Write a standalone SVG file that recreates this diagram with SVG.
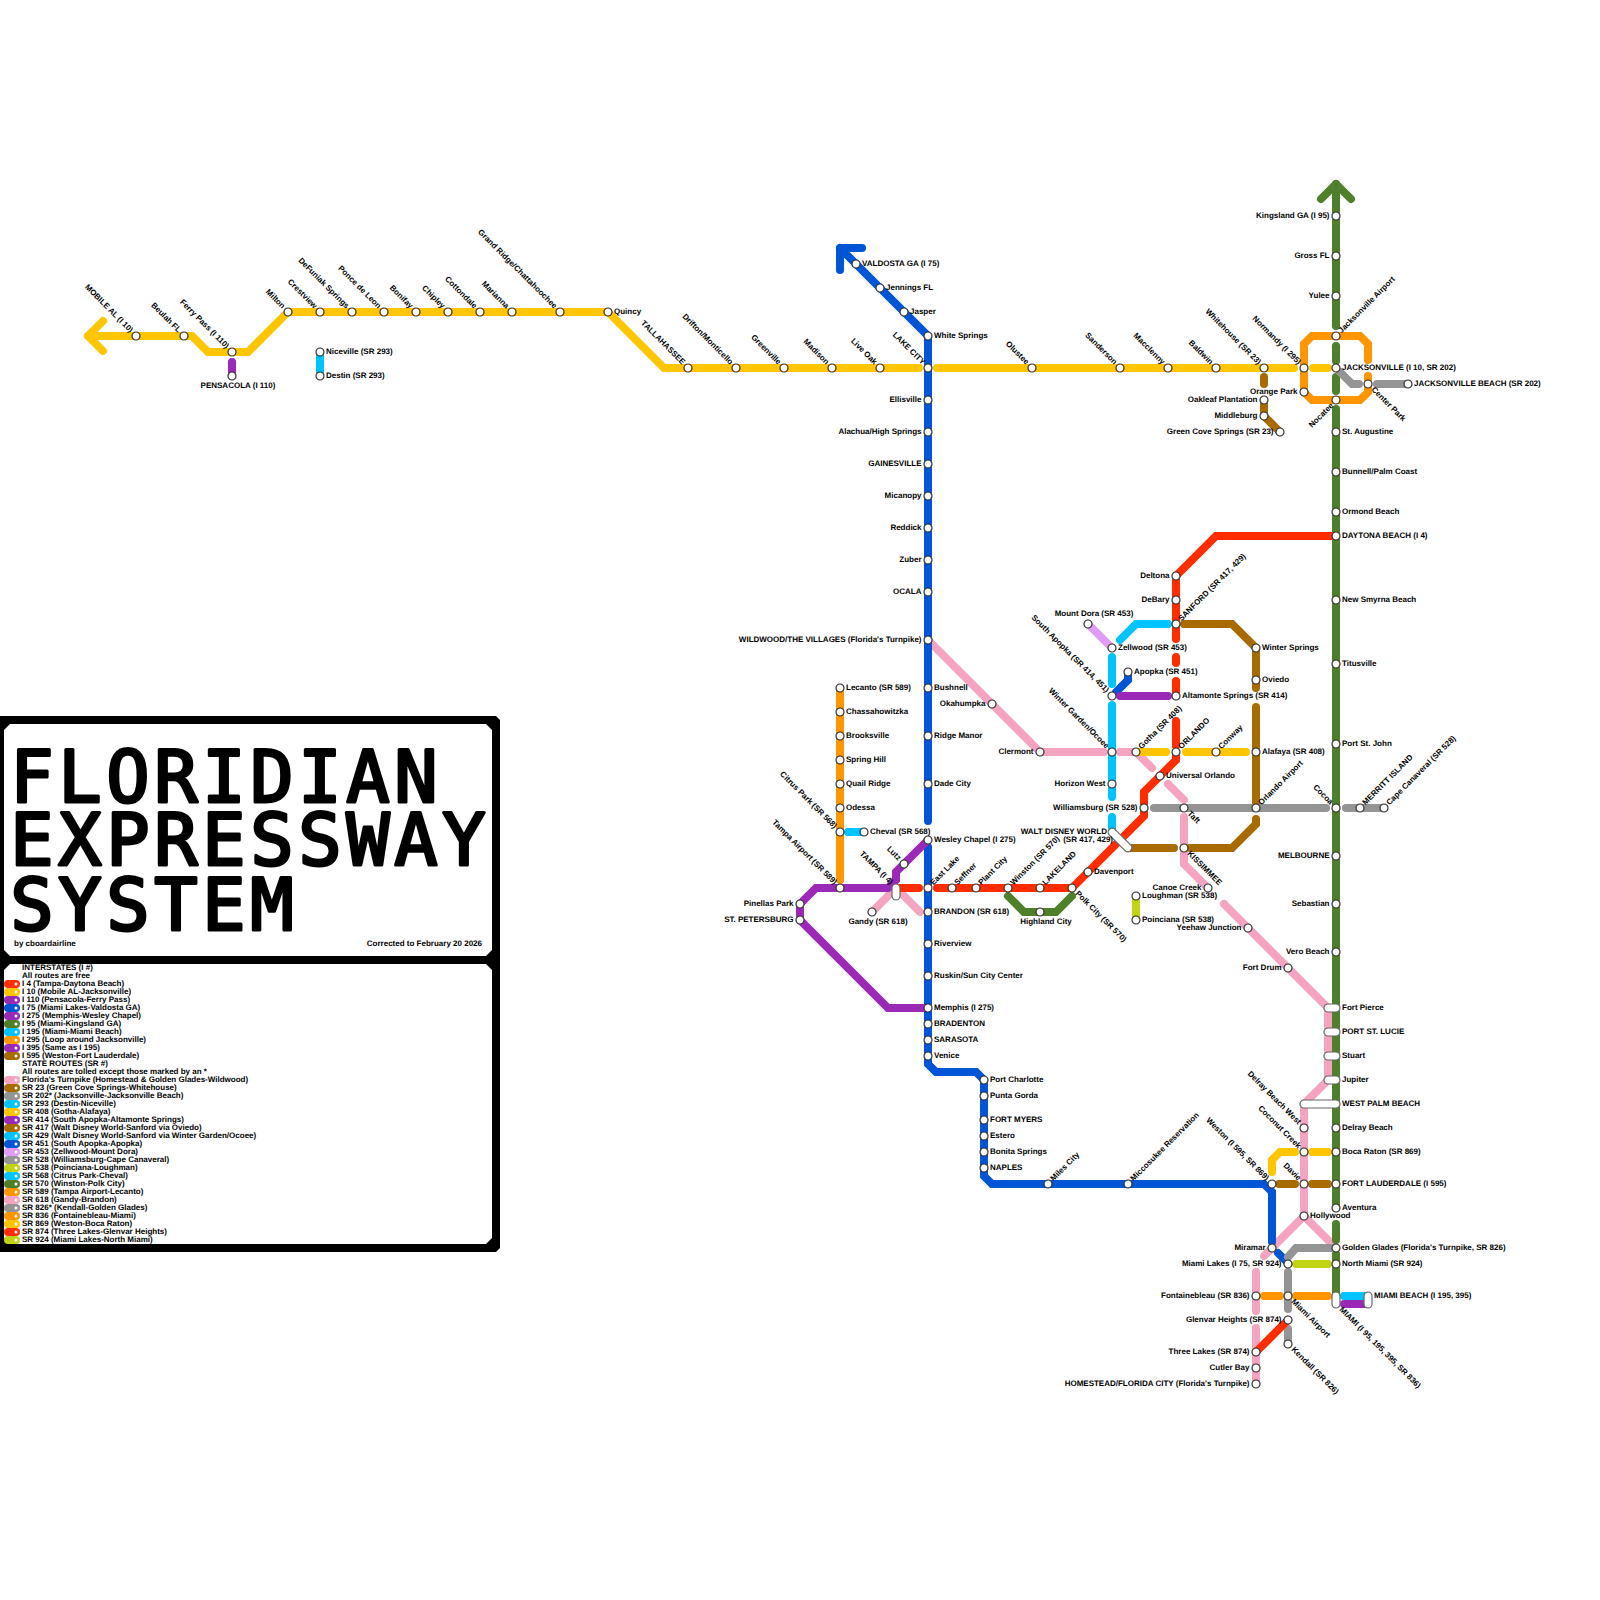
<svg xmlns="http://www.w3.org/2000/svg" width="1600" height="1600" viewBox="0 0 1600 1600">
<style>
text{font:bold 8px "Liberation Sans",Arial,sans-serif;fill:#000;text-rendering:geometricPrecision}
.R{transform:translate(6px,2px)}
.L{text-anchor:end;transform:translate(-6.5px,2px)}
.UL{text-anchor:end;transform:translate(-6px,-3px) rotate(45deg)}
.UR{transform:translate(5.5px,-2.5px) rotate(-45deg)}
.LR{transform:translate(3px,6px) rotate(45deg)}
.LL{text-anchor:end;transform:translate(-2px,6px) rotate(-45deg)}
.M{text-anchor:middle}
.E{text-anchor:end}
.t{font:normal 72px "DejaVu Sans Mono",monospace;text-anchor:middle;stroke:#000;stroke-width:3;stroke-linejoin:round}
.st{fill:#fff;stroke:#333;stroke-width:1.2}
.cap{fill:#fff;stroke:#666;stroke-width:1.2}
#connectors polyline,.sw line{fill:none;stroke-width:8;stroke-linecap:round;stroke-linejoin:miter}
#connectors polyline.ah{stroke-linejoin:round}
.red{stroke:#ff2d00}.yel{stroke:#ffc600}.pur{stroke:#9a29b8}.blu{stroke:#0054d6}.grn{stroke:#4f7f2a}.cya{stroke:#00c3ff}.ora{stroke:#ff9600}.bro{stroke:#a86b00}.pin{stroke:#f4a4c0}.gry{stroke:#949494}.lil{stroke:#e09cf4}.lim{stroke:#c0d414}
.dot{fill:#fff}
</style>
<g id="frame">
<polygon points="0,716 496,716 500,720 500,1248 496,1252 0,1252" fill="#000"/>
<polygon points="10,724 486,724 492,730 492,950 486,956 10,956 4,950 4,730" fill="#fff"/>
<polygon points="10,964 486,964 492,970 492,1238 486,1244 10,1244 4,1238 4,970" fill="#fff"/>
</g>
<g id="title">
<text class="t" y="802" x="32 80 128 176 224 272 320 368 416">FLORIDIAN</text>
<text class="t" y="865" x="32 80 128 176 224 272 320 368 416 464">EXPRESSWAY</text>
<text class="t" y="930" x="32 80 128 176 224 272">SYSTEM</text>
<text x="14" y="946">by cboardairline</text>
<text x="482" y="946" class="E">Corrected to February 20 2026</text>
</g>
<g id="legend">
<g class="sw">
<line class="red" x1="8" x2="16" y1="984" y2="984"/><line class="yel" x1="8" x2="16" y1="992" y2="992"/><line class="pur" x1="8" x2="16" y1="1000" y2="1000"/><line class="blu" x1="8" x2="16" y1="1008" y2="1008"/><line class="pur" x1="8" x2="16" y1="1016" y2="1016"/><line class="grn" x1="8" x2="16" y1="1024" y2="1024"/><line class="cya" x1="8" x2="16" y1="1032" y2="1032"/><line class="ora" x1="8" x2="16" y1="1040" y2="1040"/><line class="pur" x1="8" x2="16" y1="1048" y2="1048"/><line class="bro" x1="8" x2="16" y1="1056" y2="1056"/>
<line class="pin" x1="8" x2="16" y1="1080" y2="1080"/><line class="bro" x1="8" x2="16" y1="1088" y2="1088"/><line class="gry" x1="8" x2="16" y1="1096" y2="1096"/><line class="cya" x1="8" x2="16" y1="1104" y2="1104"/><line class="yel" x1="8" x2="16" y1="1112" y2="1112"/><line class="pur" x1="8" x2="16" y1="1120" y2="1120"/><line class="bro" x1="8" x2="16" y1="1128" y2="1128"/><line class="cya" x1="8" x2="16" y1="1136" y2="1136"/><line class="blu" x1="8" x2="16" y1="1144" y2="1144"/><line class="lil" x1="8" x2="16" y1="1152" y2="1152"/><line class="gry" x1="8" x2="16" y1="1160" y2="1160"/><line class="lim" x1="8" x2="16" y1="1168" y2="1168"/><line class="cya" x1="8" x2="16" y1="1176" y2="1176"/><line class="grn" x1="8" x2="16" y1="1184" y2="1184"/><line class="ora" x1="8" x2="16" y1="1192" y2="1192"/><line class="pin" x1="8" x2="16" y1="1200" y2="1200"/><line class="gry" x1="8" x2="16" y1="1208" y2="1208"/><line class="ora" x1="8" x2="16" y1="1216" y2="1216"/><line class="yel" x1="8" x2="16" y1="1224" y2="1224"/><line class="red" x1="8" x2="16" y1="1232" y2="1232"/><line class="lim" x1="8" x2="16" y1="1240" y2="1240"/>
</g>
<g class="dot">
<circle cx="16" cy="984" r="1.5"/><circle cx="16" cy="992" r="1.5"/><circle cx="16" cy="1000" r="1.5"/><circle cx="16" cy="1008" r="1.5"/><circle cx="16" cy="1016" r="1.5"/><circle cx="16" cy="1024" r="1.5"/><circle cx="16" cy="1032" r="1.5"/><circle cx="16" cy="1040" r="1.5"/><circle cx="16" cy="1048" r="1.5"/><circle cx="16" cy="1056" r="1.5"/><circle cx="16" cy="1080" r="1.5"/><circle cx="16" cy="1088" r="1.5"/><circle cx="16" cy="1096" r="1.5"/><circle cx="16" cy="1104" r="1.5"/><circle cx="16" cy="1112" r="1.5"/><circle cx="16" cy="1120" r="1.5"/><circle cx="16" cy="1128" r="1.5"/><circle cx="16" cy="1136" r="1.5"/><circle cx="16" cy="1144" r="1.5"/><circle cx="16" cy="1152" r="1.5"/><circle cx="16" cy="1160" r="1.5"/><circle cx="16" cy="1168" r="1.5"/><circle cx="16" cy="1176" r="1.5"/><circle cx="16" cy="1184" r="1.5"/><circle cx="16" cy="1192" r="1.5"/><circle cx="16" cy="1200" r="1.5"/><circle cx="16" cy="1208" r="1.5"/><circle cx="16" cy="1216" r="1.5"/><circle cx="16" cy="1224" r="1.5"/><circle cx="16" cy="1232" r="1.5"/><circle cx="16" cy="1240" r="1.5"/>
</g>
<text x="22" y="970">INTERSTATES (I #)</text>
<text x="22" y="978">All routes are free</text>
<text x="22" y="986">I 4 (Tampa-Daytona Beach)</text>
<text x="22" y="994">I 10 (Mobile AL-Jacksonville)</text>
<text x="22" y="1002">I 110 (Pensacola-Ferry Pass)</text>
<text x="22" y="1010">I 75 (Miami Lakes-Valdosta GA)</text>
<text x="22" y="1018">I 275 (Memphis-Wesley Chapel)</text>
<text x="22" y="1026">I 95 (Miami-Kingsland GA)</text>
<text x="22" y="1034">I 195 (Miami-Miami Beach)</text>
<text x="22" y="1042">I 295 (Loop around Jacksonville)</text>
<text x="22" y="1050">I 395 (Same as I 195)</text>
<text x="22" y="1058">I 595 (Weston-Fort Lauderdale)</text>
<text x="22" y="1066">STATE ROUTES (SR #)</text>
<text x="22" y="1074">All routes are tolled except those marked by an *</text>
<text x="22" y="1082">Florida's Turnpike (Homestead &amp; Golden Glades-Wildwood)</text>
<text x="22" y="1090">SR 23 (Green Cove Springs-Whitehouse)</text>
<text x="22" y="1098">SR 202* (Jacksonville-Jacksonville Beach)</text>
<text x="22" y="1106">SR 293 (Destin-Niceville)</text>
<text x="22" y="1114">SR 408 (Gotha-Alafaya)</text>
<text x="22" y="1122">SR 414 (South Apopka-Altamonte Springs)</text>
<text x="22" y="1130">SR 417 (Walt Disney World-Sanford via Oviedo)</text>
<text x="22" y="1138">SR 429 (Walt Disney World-Sanford via Winter Garden/Ocoee)</text>
<text x="22" y="1146">SR 451 (South Apopka-Apopka)</text>
<text x="22" y="1154">SR 453 (Zellwood-Mount Dora)</text>
<text x="22" y="1162">SR 528 (Williamsburg-Cape Canaveral)</text>
<text x="22" y="1170">SR 538 (Poinciana-Loughman)</text>
<text x="22" y="1178">SR 568 (Citrus Park-Cheval)</text>
<text x="22" y="1186">SR 570 (Winston-Polk City)</text>
<text x="22" y="1194">SR 589 (Tampa Airport-Lecanto)</text>
<text x="22" y="1202">SR 618 (Gandy-Brandon)</text>
<text x="22" y="1210">SR 826* (Kendall-Golden Glades)</text>
<text x="22" y="1218">SR 836 (Fontainebleau-Miami)</text>
<text x="22" y="1226">SR 869 (Weston-Boca Raton)</text>
<text x="22" y="1234">SR 874 (Three Lakes-Glenvar Heights)</text>
<text x="22" y="1242">SR 924 (Miami Lakes-North Miami)</text>
</g>
<g id="connectors">
<g id="sr618"><polyline class="pin" points="872,912 896,888 920,912"/></g>
<g id="turnpike">
<polyline class="pin" points="928,640 1040,752 1104,752"/>
<polyline class="pin" points="1120,752 1136,752 1152,768"/>
<polyline class="pin" points="1168,784 1184,800"/>
<polyline class="pin" points="1184,817 1184,864 1208,888"/>
<polyline class="pin" points="1224,904 1328,1008 1328,1080 1304,1104 1304,1216 1336,1248"/>
<polyline class="pin" points="1304,1216 1264,1256"/>
<polyline class="pin" points="1256,1272 1256,1311"/>
<polyline class="pin" points="1256,1328 1256,1384"/>
</g>
<g id="i95">
<polyline class="grn ah" points="1321,199 1336,184 1351,199"/>
<polyline class="grn" points="1336,184 1336,326"/>
<polyline class="grn" points="1336,346 1336,361"/>
<polyline class="grn" points="1336,377 1336,391"/>
<polyline class="grn" points="1336,409 1336,1208"/>
<polyline class="grn" points="1336,1224 1336,1240"/>
<polyline class="grn" points="1336,1254 1336,1296"/>
</g>
<g id="i10">
<polyline class="yel ah" points="103,321 88,336 103,351"/>
<polyline class="yel" points="88,336 192,336 208,352 248,352 288,312 608,312 664,368 919,368"/>
<polyline class="yel" points="937,368 1294,368"/>
<polyline class="yel" points="1313,368 1328,368"/>
</g>
<g id="i110"><polyline class="pur" points="232,362 232,376"/></g>
<g id="sr293"><polyline class="cya" points="320,354 320,374"/></g>
<g id="i75">
<polyline class="blu ah" points="862,248 840,248 840,270"/>
<polyline class="blu" points="840,248 928,336 928,821"/>
<polyline class="blu" points="928,847 928,1064 936,1072 976,1072 984,1080 984,1176 992,1184 1264,1184 1272,1192 1272,1242"/>
<polyline class="blu" points="1278,1253 1288,1263"/>
<polyline class="blu" points="1116,692 1128,680 1128,672"/>
</g>
<g id="i275">
<polyline class="pur" points="928,840 896,872 896,880 888,888 816,888 800,904 800,920 888,1008 923,1008"/>
</g>
<g id="i4">
<polyline class="red" points="896,888 919,888"/>
<polyline class="red" points="937,888 1072,888 1144,816 1144,792 1176,760 1176,752"/>
<polyline class="red" points="1176,721 1176,746"/>
<polyline class="red" points="1176,681 1176,696"/>
<polyline class="red" points="1176,657 1176,663"/>
<polyline class="red" points="1336,536 1216,536 1176,576 1176,639"/>
</g>
<g id="sr589">
<polyline class="ora" points="840,688 840,880"/>
</g>
<g id="sr568"><polyline class="cya" points="848,832 864,832"/></g>
<g id="sr570"><polyline class="grn" points="1008,896 1024,912 1056,912 1072,896"/></g>
<g id="sr538"><polyline class="lim" points="1136,898 1136,918"/></g>
<g id="sr429">
<polyline class="cya" points="1112,817 1112,830"/>
<polyline class="cya" points="1112,705 1112,797"/>
<polyline class="cya" points="1112,657 1112,684"/>
<polyline class="cya" points="1120,640 1136,624 1168,624"/>
</g>
<g id="sr453"><polyline class="lil" points="1088,624 1112,648"/></g>
<g id="sr414"><polyline class="pur" points="1120,696 1168,696"/></g>
<g id="sr417">
<polyline class="bro" points="1184,624 1232,624 1256,648 1256,688"/>
<polyline class="bro" points="1256,707 1256,808"/>
<polyline class="bro" points="1256,819 1256,824 1232,848 1190,848"/>
<polyline class="bro" points="1174,848 1128,848"/>
</g>
<g id="sr408">
<polyline class="yel" points="1136,752 1166,752"/>
<polyline class="yel" points="1186,752 1246,752"/>
</g>
<g id="sr528">
<polyline class="gry" points="1154,808 1326,808"/>
<polyline class="gry" points="1346,808 1384,808"/>
</g>
<g id="i295">
<polyline class="ora" points="1368,360 1368,344 1360,336 1312,336 1304,344 1304,392 1312,400 1360,400 1368,392 1368,376"/>
</g>
<g id="sr202">
<polyline class="gry" points="1340,372 1352,384 1359,384"/>
<polyline class="gry" points="1377,384 1408,384"/>
</g>
<g id="sr23">
<polyline class="bro" points="1264,377 1264,384"/>
<polyline class="bro" points="1264,400 1264,416 1280,432"/>
</g>
<g id="sr869">
<polyline class="yel" points="1272,1172 1272,1160 1280,1152 1295,1152"/>
<polyline class="yel" points="1312,1152 1328,1152"/>
</g>
<g id="i595">
<polyline class="bro" points="1279,1184 1295,1184"/>
<polyline class="bro" points="1312,1184 1328,1184"/>
</g>
<g id="sr826">
<polyline class="gry" points="1288,1257 1296,1248 1332,1248"/>
<polyline class="gry" points="1288,1272 1288,1309"/>
<polyline class="gry" points="1288,1329 1288,1344"/>
</g>
<g id="sr924"><polyline class="lim" points="1296,1264 1328,1264"/></g>
<g id="sr836">
<polyline class="ora" points="1264,1296 1280,1296"/>
<polyline class="ora" points="1296,1296 1328,1296"/>
</g>
<g id="sr874"><polyline class="red" points="1256,1352 1288,1320"/></g>
<g id="i195"><polyline class="cya" points="1344,1296 1366,1296"/></g>
<g id="i395"><polyline class="pur" points="1344,1304 1366,1304"/></g>
</g>
<g id="stations">
<g id="n-mobile" transform="translate(136,336)"><circle class="st" r="4"/><text class="UL">MOBILE AL (I 10)</text></g>
<g id="n-beulah" transform="translate(184,336)"><circle class="st" r="4"/><text class="UL">Beulah FL</text></g>
<g id="n-ferrypass" transform="translate(232,352)"><circle class="st" r="4"/><text class="UL">Ferry Pass (I 110)</text></g>
<g id="n-pensacola" transform="translate(232,376)"><circle class="st" r="4"/><text class="M" x="6" y="12">PENSACOLA (I 110)</text></g>
<g id="n-niceville" transform="translate(320,352)"><circle class="st" r="4"/><text class="R">Niceville (SR 293)</text></g>
<g id="n-destin" transform="translate(320,376)"><circle class="st" r="4"/><text class="R">Destin (SR 293)</text></g>
<g id="n-milton" transform="translate(288,312)"><circle class="st" r="4"/><text class="UL">Milton</text></g>
<g id="n-crestview" transform="translate(320,312)"><circle class="st" r="4"/><text class="UL">Crestview</text></g>
<g id="n-defuniak" transform="translate(352,312)"><circle class="st" r="4"/><text class="UL">DeFuniak Springs</text></g>
<g id="n-ponce" transform="translate(384,312)"><circle class="st" r="4"/><text class="UL">Ponce de Leon</text></g>
<g id="n-bonifay" transform="translate(416,312)"><circle class="st" r="4"/><text class="UL">Bonifay</text></g>
<g id="n-chipley" transform="translate(448,312)"><circle class="st" r="4"/><text class="UL">Chipley</text></g>
<g id="n-cottondale" transform="translate(480,312)"><circle class="st" r="4"/><text class="UL">Cottondale</text></g>
<g id="n-marianna" transform="translate(512,312)"><circle class="st" r="4"/><text class="UL">Marianna</text></g>
<g id="n-grandridge" transform="translate(560,312)"><circle class="st" r="4"/><text class="UL">Grand Ridge/Chattahoochee</text></g>
<g id="n-quincy" transform="translate(608,312)"><circle class="st" r="4"/><text class="R">Quincy</text></g>
<g id="n-tallahassee" transform="translate(688,368)"><circle class="st" r="4"/><text class="UL">TALLAHASSEE</text></g>
<g id="n-drifton" transform="translate(736,368)"><circle class="st" r="4"/><text class="UL">Drifton/Monticello</text></g>
<g id="n-greenville" transform="translate(784,368)"><circle class="st" r="4"/><text class="UL">Greenville</text></g>
<g id="n-madison" transform="translate(832,368)"><circle class="st" r="4"/><text class="UL">Madison</text></g>
<g id="n-liveoak" transform="translate(880,368)"><circle class="st" r="4"/><text class="UL">Live Oak</text></g>
<g id="n-lakecity" transform="translate(928,368)"><circle class="st" r="4"/><text class="UL">LAKE CITY</text></g>
<g id="n-olustee" transform="translate(1032,368)"><circle class="st" r="4"/><text class="UL">Olustee</text></g>
<g id="n-sanderson" transform="translate(1120,368)"><circle class="st" r="4"/><text class="UL">Sanderson</text></g>
<g id="n-macclenny" transform="translate(1168,368)"><circle class="st" r="4"/><text class="UL">Macclenny</text></g>
<g id="n-baldwin" transform="translate(1216,368)"><circle class="st" r="4"/><text class="UL">Baldwin</text></g>
<g id="n-whitehouse" transform="translate(1264,368)"><circle class="st" r="4"/><text class="UL">Whitehouse (SR 23)</text></g>
<g id="n-normandy" transform="translate(1304,368)"><circle class="st" r="4"/><text class="UL">Normandy (I 295)</text></g>
<g id="n-jacksonville" transform="translate(1336,368)"><circle class="st" r="4"/><text class="R">JACKSONVILLE (I 10, SR 202)</text></g>
<g id="n-jaxairport" transform="translate(1336,336)"><circle class="st" r="4"/><text class="UR">Jacksonville Airport</text></g>
<g id="n-orangepark" transform="translate(1304,392)"><circle class="st" r="4"/><text class="L">Orange Park</text></g>
<g id="n-nocatee" transform="translate(1336,400)"><circle class="st" r="4"/><text class="LL">Nocatee</text></g>
<g id="n-centerpark" transform="translate(1368,384)"><circle class="st" r="4"/><text class="LR">Center Park</text></g>
<g id="n-jaxbeach" transform="translate(1408,384)"><circle class="st" r="4"/><text class="R">JACKSONVILLE BEACH (SR 202)</text></g>
<g id="n-oakleaf" transform="translate(1264,400)"><circle class="st" r="4"/><text class="L">Oakleaf Plantation</text></g>
<g id="n-middleburg" transform="translate(1264,416)"><circle class="st" r="4"/><text class="L">Middleburg</text></g>
<g id="n-greencove" transform="translate(1280,432)"><circle class="st" r="4"/><text class="L">Green Cove Springs (SR 23)</text></g>
<g id="n-valdosta" transform="translate(856,264)"><circle class="st" r="4"/><text class="R">VALDOSTA GA (I 75)</text></g>
<g id="n-jennings" transform="translate(880,288)"><circle class="st" r="4"/><text class="R">Jennings FL</text></g>
<g id="n-jasper" transform="translate(904,312)"><circle class="st" r="4"/><text class="R">Jasper</text></g>
<g id="n-whitesprings" transform="translate(928,336)"><circle class="st" r="4"/><text class="R">White Springs</text></g>
<g id="n-ellisville" transform="translate(928,400)"><circle class="st" r="4"/><text class="L">Ellisville</text></g>
<g id="n-alachua" transform="translate(928,432)"><circle class="st" r="4"/><text class="L">Alachua/High Springs</text></g>
<g id="n-gainesville" transform="translate(928,464)"><circle class="st" r="4"/><text class="L">GAINESVILLE</text></g>
<g id="n-micanopy" transform="translate(928,496)"><circle class="st" r="4"/><text class="L">Micanopy</text></g>
<g id="n-reddick" transform="translate(928,528)"><circle class="st" r="4"/><text class="L">Reddick</text></g>
<g id="n-zuber" transform="translate(928,560)"><circle class="st" r="4"/><text class="L">Zuber</text></g>
<g id="n-ocala" transform="translate(928,592)"><circle class="st" r="4"/><text class="L">OCALA</text></g>
<g id="n-wildwood" transform="translate(928,640)"><circle class="st" r="4"/><text class="L">WILDWOOD/THE VILLAGES (Florida's Turnpike)</text></g>
<g id="n-bushnell" transform="translate(928,688)"><circle class="st" r="4"/><text class="R">Bushnell</text></g>
<g id="n-ridgemanor" transform="translate(928,736)"><circle class="st" r="4"/><text class="R">Ridge Manor</text></g>
<g id="n-dadecity" transform="translate(928,784)"><circle class="st" r="4"/><text class="R">Dade City</text></g>
<g id="n-wesleychapel" transform="translate(928,840)"><circle class="st" r="4"/><text class="R">Wesley Chapel (I 275)</text></g>
<g id="n-eastlake" transform="translate(928,888)"><circle class="st" r="4"/><text class="UR">East Lake</text></g>
<g id="n-brandon" transform="translate(928,912)"><circle class="st" r="4"/><text class="R">BRANDON (SR 618)</text></g>
<g id="n-riverview" transform="translate(928,944)"><circle class="st" r="4"/><text class="R">Riverview</text></g>
<g id="n-ruskin" transform="translate(928,976)"><circle class="st" r="4"/><text class="R">Ruskin/Sun City Center</text></g>
<g id="n-memphis" transform="translate(928,1008)"><circle class="st" r="4"/><text class="R">Memphis (I 275)</text></g>
<g id="n-bradenton" transform="translate(928,1024)"><circle class="st" r="4"/><text class="R">BRADENTON</text></g>
<g id="n-sarasota" transform="translate(928,1040)"><circle class="st" r="4"/><text class="R">SARASOTA</text></g>
<g id="n-venice" transform="translate(928,1056)"><circle class="st" r="4"/><text class="R">Venice</text></g>
<g id="n-portcharlotte" transform="translate(984,1080)"><circle class="st" r="4"/><text class="R">Port Charlotte</text></g>
<g id="n-puntagorda" transform="translate(984,1096)"><circle class="st" r="4"/><text class="R">Punta Gorda</text></g>
<g id="n-fortmyers" transform="translate(984,1120)"><circle class="st" r="4"/><text class="R">FORT MYERS</text></g>
<g id="n-estero" transform="translate(984,1136)"><circle class="st" r="4"/><text class="R">Estero</text></g>
<g id="n-bonita" transform="translate(984,1152)"><circle class="st" r="4"/><text class="R">Bonita Springs</text></g>
<g id="n-naples" transform="translate(984,1168)"><circle class="st" r="4"/><text class="R">NAPLES</text></g>
<g id="n-milescity" transform="translate(1048,1184)"><circle class="st" r="4"/><text class="UR">Miles City</text></g>
<g id="n-miccosukee" transform="translate(1128,1184)"><circle class="st" r="4"/><text class="UR">Miccosukee Reservation</text></g>
<g id="n-lecanto" transform="translate(840,688)"><circle class="st" r="4"/><text class="R">Lecanto (SR 589)</text></g>
<g id="n-chassahowitzka" transform="translate(840,712)"><circle class="st" r="4"/><text class="R">Chassahowitzka</text></g>
<g id="n-brooksville" transform="translate(840,736)"><circle class="st" r="4"/><text class="R">Brooksville</text></g>
<g id="n-springhill" transform="translate(840,760)"><circle class="st" r="4"/><text class="R">Spring Hill</text></g>
<g id="n-quailridge" transform="translate(840,784)"><circle class="st" r="4"/><text class="R">Quail Ridge</text></g>
<g id="n-odessa" transform="translate(840,808)"><circle class="st" r="4"/><text class="R">Odessa</text></g>
<g id="n-citruspark" transform="translate(840,832)"><circle class="st" r="4"/><text class="UL">Citrus Park (SR 568)</text></g>
<g id="n-cheval" transform="translate(864,832)"><circle class="st" r="4"/><text class="R">Cheval (SR 568)</text></g>
<g id="n-tampaairport" transform="translate(840,888)"><circle class="st" r="4"/><text class="UL">Tampa Airport (SR 589)</text></g>
<g id="n-pinellas" transform="translate(800,904)"><circle class="st" r="4"/><text class="L">Pinellas Park</text></g>
<g id="n-stpete" transform="translate(800,920)"><circle class="st" r="4"/><text class="L">ST. PETERSBURG</text></g>
<g id="n-lutz" transform="translate(904,864)"><circle class="st" r="4"/><text class="UL">Lutz</text></g>
<g id="n-tampa" transform="translate(896,888)"><rect class="cap" x="-4" y="-4" width="8" height="16" rx="4"/><text class="UL">TAMPA (I 4)</text></g>
<g id="n-gandy" transform="translate(872,912)"><circle class="st" r="4"/><text class="M" x="6" y="12">Gandy (SR 618)</text></g>
<g id="n-seffner" transform="translate(952,888)"><circle class="st" r="4"/><text class="UR">Seffner</text></g>
<g id="n-plantcity" transform="translate(976,888)"><circle class="st" r="4"/><text class="UR">Plant City</text></g>
<g id="n-winston" transform="translate(1008,888)"><circle class="st" r="4"/><text class="UR">Winston (SR 570)</text></g>
<g id="n-lakeland" transform="translate(1040,888)"><circle class="st" r="4"/><text class="UR">LAKELAND</text></g>
<g id="n-polkcity" transform="translate(1072,888)"><circle class="st" r="4"/><text class="LR">Polk City (SR 570)</text></g>
<g id="n-highland" transform="translate(1040,912)"><circle class="st" r="4"/><text class="M" x="6" y="12">Highland City</text></g>
<g id="n-davenport" transform="translate(1088,872)"><circle class="st" r="4"/><text class="R">Davenport</text></g>
<g id="n-wdw" transform="translate(1120,840)"><rect class="cap" x="-15" y="-4" width="30" height="8" rx="4" transform="rotate(45)"/><text class="E" x="-13" y="-6">WALT DISNEY WORLD</text><text class="E" x="-7" y="2">(SR 417, 429)</text></g>
<g id="n-williamsburg" transform="translate(1144,808)"><circle class="st" r="4"/><text class="L">Williamsburg (SR 528)</text></g>
<g id="n-universal" transform="translate(1160,776)"><circle class="st" r="4"/><text class="R">Universal Orlando</text></g>
<g id="n-horizonwest" transform="translate(1112,784)"><circle class="st" r="4"/><text class="L">Horizon West</text></g>
<g id="n-wintergarden" transform="translate(1112,752)"><circle class="st" r="4"/><text class="UL">Winter Garden/Ocoee</text></g>
<g id="n-clermont" transform="translate(1040,752)"><circle class="st" r="4"/><text class="L">Clermont</text></g>
<g id="n-okahumpka" transform="translate(992,704)"><circle class="st" r="4"/><text class="L">Okahumpka</text></g>
<g id="n-southapopka" transform="translate(1112,696)"><circle class="st" r="4"/><text class="UL">South Apopka (SR 414, 451)</text></g>
<g id="n-apopka" transform="translate(1128,672)"><circle class="st" r="4"/><text class="R">Apopka (SR 451)</text></g>
<g id="n-zellwood" transform="translate(1112,648)"><circle class="st" r="4"/><text class="R">Zellwood (SR 453)</text></g>
<g id="n-mountdora" transform="translate(1088,624)"><circle class="st" r="4"/><text class="M" x="6" y="-8">Mount Dora (SR 453)</text></g>
<g id="n-deltona" transform="translate(1176,576)"><circle class="st" r="4"/><text class="L">Deltona</text></g>
<g id="n-debary" transform="translate(1176,600)"><circle class="st" r="4"/><text class="L">DeBary</text></g>
<g id="n-sanford" transform="translate(1176,624)"><circle class="st" r="4"/><text class="UR">SANFORD (SR 417, 429)</text></g>
<g id="n-altamonte" transform="translate(1176,696)"><circle class="st" r="4"/><text class="R">Altamonte Springs (SR 414)</text></g>
<g id="n-gotha" transform="translate(1136,752)"><circle class="st" r="4"/><text class="UR">Gotha (SR 408)</text></g>
<g id="n-orlando" transform="translate(1176,752)"><circle class="st" r="4"/><text class="UR">ORLANDO</text></g>
<g id="n-conway" transform="translate(1216,752)"><circle class="st" r="4"/><text class="UR">Conway</text></g>
<g id="n-alafaya" transform="translate(1256,752)"><circle class="st" r="4"/><text class="R">Alafaya (SR 408)</text></g>
<g id="n-wintersprings" transform="translate(1256,648)"><circle class="st" r="4"/><text class="R">Winter Springs</text></g>
<g id="n-oviedo" transform="translate(1256,680)"><circle class="st" r="4"/><text class="R">Oviedo</text></g>
<g id="n-orlandoairport" transform="translate(1256,808)"><circle class="st" r="4"/><text class="UR">Orlando Airport</text></g>
<g id="n-taft" transform="translate(1184,808)"><circle class="st" r="4"/><text class="LR">Taft</text></g>
<g id="n-kissimmee" transform="translate(1184,848)"><circle class="st" r="4"/><text class="LR">KISSIMMEE</text></g>
<g id="n-canoecreek" transform="translate(1208,888)"><circle class="st" r="4"/><text class="L">Canoe Creek</text></g>
<g id="n-loughman" transform="translate(1136,896)"><circle class="st" r="4"/><text class="R">Loughman (SR 538)</text></g>
<g id="n-poinciana" transform="translate(1136,920)"><circle class="st" r="4"/><text class="R">Poinciana (SR 538)</text></g>
<g id="n-yeehaw" transform="translate(1248,928)"><circle class="st" r="4"/><text class="L">Yeehaw Junction</text></g>
<g id="n-fortdrum" transform="translate(1288,968)"><circle class="st" r="4"/><text class="L">Fort Drum</text></g>
<g id="n-cocoa" transform="translate(1336,808)"><circle class="st" r="4"/><text class="UL">Cocoa</text></g>
<g id="n-merritt" transform="translate(1360,808)"><circle class="st" r="4"/><text class="UR">MERRITT ISLAND</text></g>
<g id="n-canaveral" transform="translate(1384,808)"><circle class="st" r="4"/><text class="UR">Cape Canaveral (SR 528)</text></g>
<g id="n-kingsland" transform="translate(1336,216)"><circle class="st" r="4"/><text class="L">Kingsland GA (I 95)</text></g>
<g id="n-gross" transform="translate(1336,256)"><circle class="st" r="4"/><text class="L">Gross FL</text></g>
<g id="n-yulee" transform="translate(1336,296)"><circle class="st" r="4"/><text class="L">Yulee</text></g>
<g id="n-staugustine" transform="translate(1336,432)"><circle class="st" r="4"/><text class="R">St. Augustine</text></g>
<g id="n-bunnell" transform="translate(1336,472)"><circle class="st" r="4"/><text class="R">Bunnell/Palm Coast</text></g>
<g id="n-ormond" transform="translate(1336,512)"><circle class="st" r="4"/><text class="R">Ormond Beach</text></g>
<g id="n-daytona" transform="translate(1336,536)"><circle class="st" r="4"/><text class="R">DAYTONA BEACH (I 4)</text></g>
<g id="n-newsmyrna" transform="translate(1336,600)"><circle class="st" r="4"/><text class="R">New Smyrna Beach</text></g>
<g id="n-titusville" transform="translate(1336,664)"><circle class="st" r="4"/><text class="R">Titusville</text></g>
<g id="n-portstjohn" transform="translate(1336,744)"><circle class="st" r="4"/><text class="R">Port St. John</text></g>
<g id="n-melbourne" transform="translate(1336,856)"><circle class="st" r="4"/><text class="L">MELBOURNE</text></g>
<g id="n-sebastian" transform="translate(1336,904)"><circle class="st" r="4"/><text class="L">Sebastian</text></g>
<g id="n-vero" transform="translate(1336,952)"><circle class="st" r="4"/><text class="L">Vero Beach</text></g>
<g id="n-fortpierce" transform="translate(1336,1008)"><rect class="cap" x="-12" y="-4" width="16" height="8" rx="4"/><text class="R">Fort Pierce</text></g>
<g id="n-portstlucie" transform="translate(1336,1032)"><rect class="cap" x="-12" y="-4" width="16" height="8" rx="4"/><text class="R">PORT ST. LUCIE</text></g>
<g id="n-stuart" transform="translate(1336,1056)"><rect class="cap" x="-12" y="-4" width="16" height="8" rx="4"/><text class="R">Stuart</text></g>
<g id="n-jupiter" transform="translate(1336,1080)"><rect class="cap" x="-12" y="-4" width="16" height="8" rx="4"/><text class="R">Jupiter</text></g>
<g id="n-westpalm" transform="translate(1336,1104)"><rect class="cap" x="-36" y="-4" width="40" height="8" rx="4"/><text class="R">WEST PALM BEACH</text></g>
<g id="n-delray" transform="translate(1336,1128)"><circle class="st" r="4"/><text class="R">Delray Beach</text></g>
<g id="n-delraywest" transform="translate(1304,1128)"><circle class="st" r="4"/><text class="UL">Delray Beach West</text></g>
<g id="n-boca" transform="translate(1336,1152)"><circle class="st" r="4"/><text class="R">Boca Raton (SR 869)</text></g>
<g id="n-coconut" transform="translate(1304,1152)"><circle class="st" r="4"/><text class="UL">Coconut Creek</text></g>
<g id="n-fortlauderdale" transform="translate(1336,1184)"><circle class="st" r="4"/><text class="R">FORT LAUDERDALE (I 595)</text></g>
<g id="n-davie" transform="translate(1304,1184)"><circle class="st" r="4"/><text class="UL">Davie</text></g>
<g id="n-weston" transform="translate(1272,1184)"><circle class="st" r="4"/><text class="UL">Weston (I 595, SR 869)</text></g>
<g id="n-aventura" transform="translate(1336,1208)"><circle class="st" r="4"/><text class="R">Aventura</text></g>
<g id="n-hollywood" transform="translate(1304,1216)"><circle class="st" r="4"/><text class="R">Hollywood</text></g>
<g id="n-miramar" transform="translate(1272,1248)"><circle class="st" r="4"/><text class="L">Miramar</text></g>
<g id="n-goldenglades" transform="translate(1336,1248)"><circle class="st" r="4"/><text class="R">Golden Glades (Florida's Turnpike, SR 826)</text></g>
<g id="n-miamilakes" transform="translate(1288,1264)"><circle class="st" r="4"/><text class="L">Miami Lakes (I 75, SR 924)</text></g>
<g id="n-northmiami" transform="translate(1336,1264)"><circle class="st" r="4"/><text class="R">North Miami (SR 924)</text></g>
<g id="n-fontainebleau" transform="translate(1256,1296)"><circle class="st" r="4"/><text class="L">Fontainebleau (SR 836)</text></g>
<g id="n-miamiairport" transform="translate(1288,1296)"><circle class="st" r="4"/><text class="LR">Miami Airport</text></g>
<g id="n-miami" transform="translate(1336,1304)"><rect class="cap" x="-4" y="-12" width="8" height="16" rx="4"/><text class="LR">MIAMI (I 95, 195, 395, SR 836)</text></g>
<g id="n-miamibeach" transform="translate(1368,1296)"><rect class="cap" x="-4" y="-4" width="8" height="16" rx="4"/><text class="R">MIAMI BEACH (I 195, 395)</text></g>
<g id="n-glenvar" transform="translate(1288,1320)"><circle class="st" r="4"/><text class="L">Glenvar Heights (SR 874)</text></g>
<g id="n-kendall" transform="translate(1288,1344)"><circle class="st" r="4"/><text class="LR">Kendall (SR 826)</text></g>
<g id="n-threelakes" transform="translate(1256,1352)"><circle class="st" r="4"/><text class="L">Three Lakes (SR 874)</text></g>
<g id="n-cutlerbay" transform="translate(1256,1368)"><circle class="st" r="4"/><text class="L">Cutler Bay</text></g>
<g id="n-homestead" transform="translate(1256,1384)"><circle class="st" r="4"/><text class="L">HOMESTEAD/FLORIDA CITY (Florida's Turnpike)</text></g>
</g>
</svg>
